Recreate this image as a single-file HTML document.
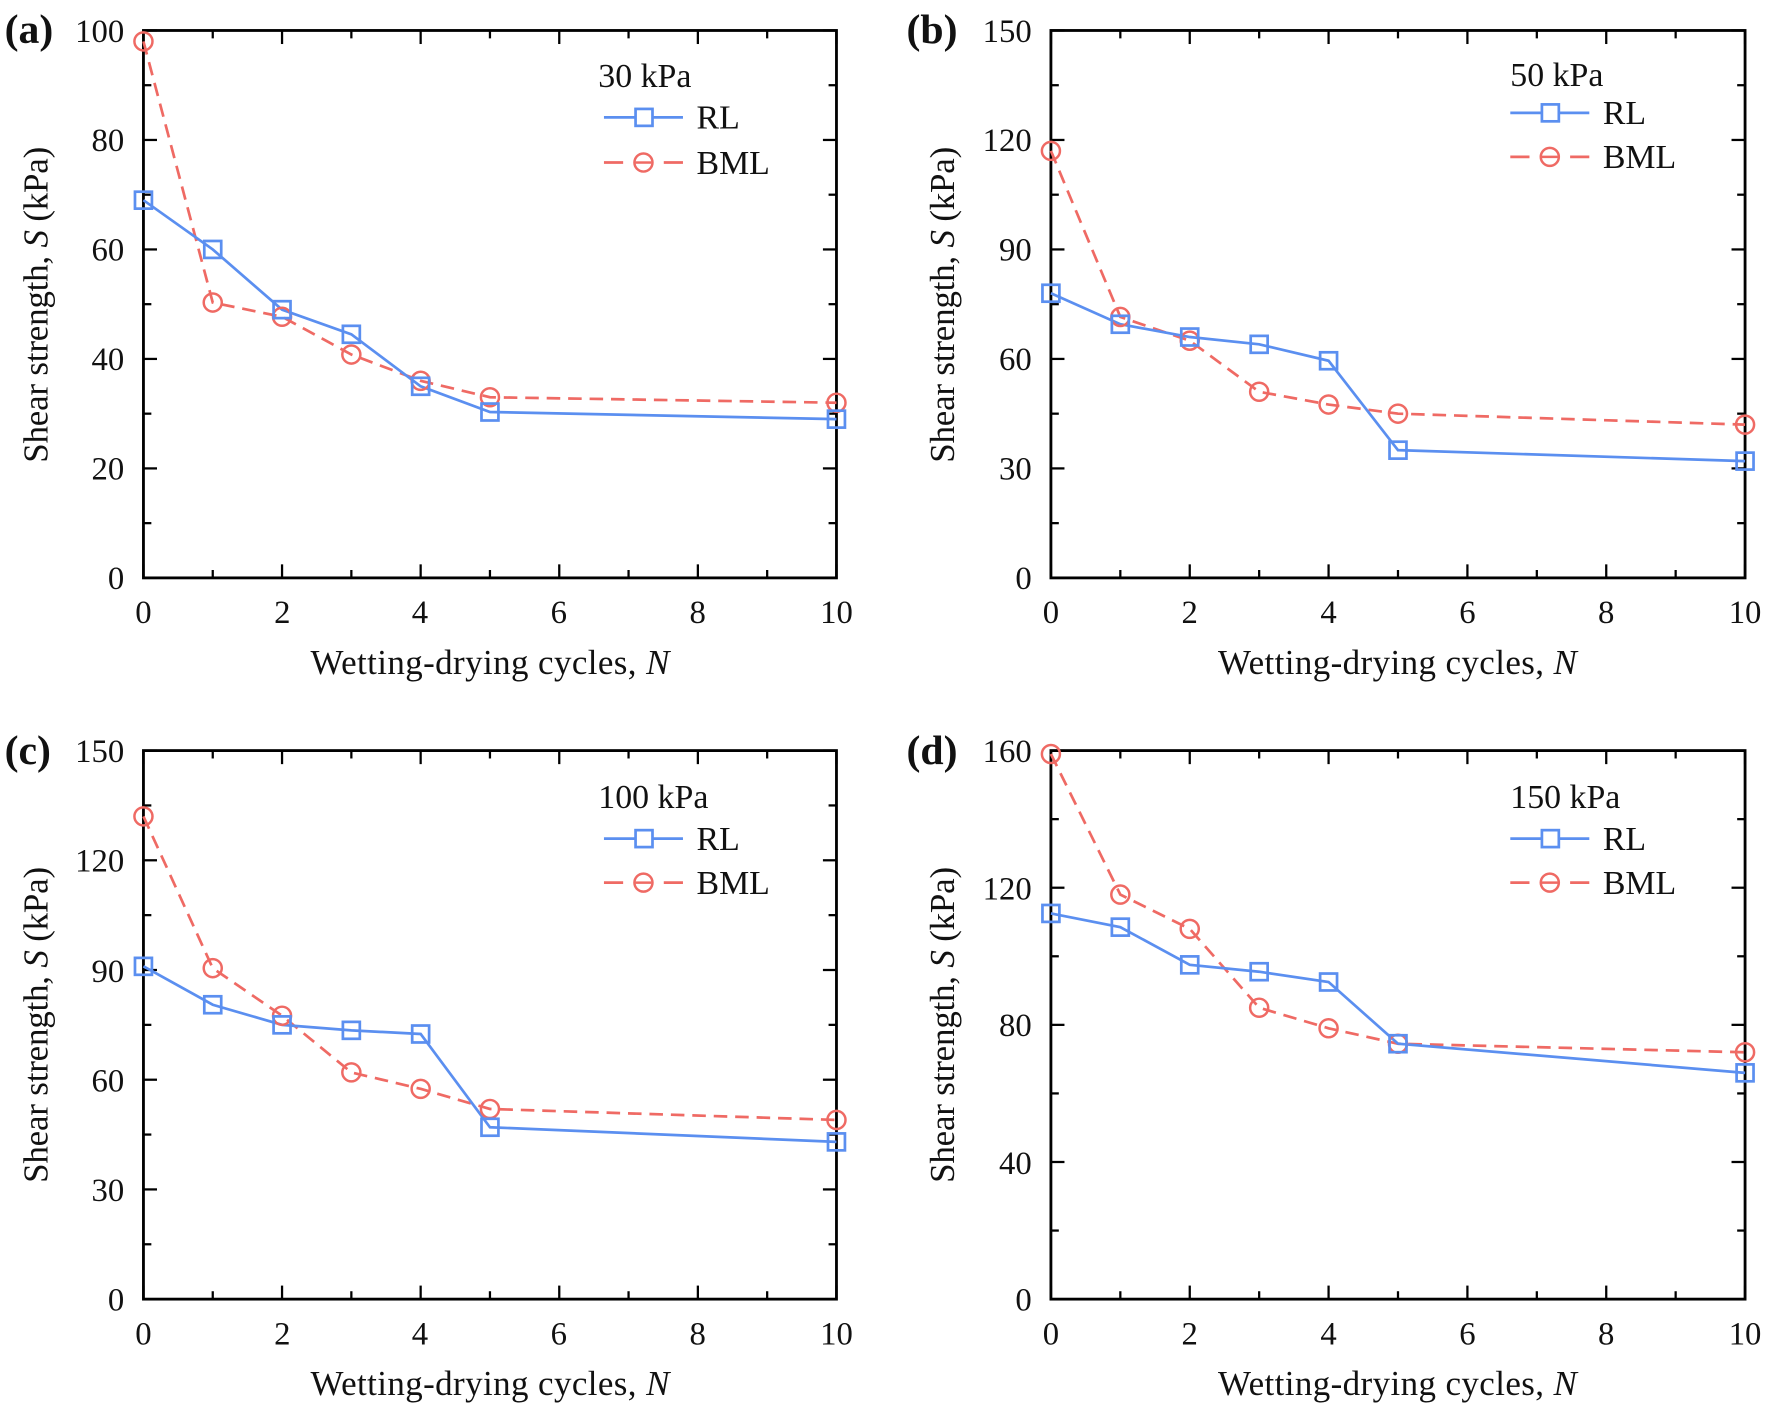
<!DOCTYPE html>
<html><head><meta charset="utf-8">
<style>
html,body{margin:0;padding:0;background:#fff}
svg{display:block}
text{font-family:"Liberation Serif",serif;fill:#111}
</style></head><body>
<svg id="s" width="1770" height="1412" viewBox="0 0 1568 1251" xmlns="http://www.w3.org/2000/svg">
<g id="geo"></g>
<g font-size="29" text-anchor="end">
<text x="110" y="522">0</text><text x="110" y="425">20</text><text x="110" y="328">40</text><text x="110" y="231">60</text><text x="110" y="134">80</text><text x="110" y="37">100</text>
<text x="914" y="522">0</text><text x="914" y="425">30</text><text x="914" y="328">60</text><text x="914" y="231">90</text><text x="914" y="134">120</text><text x="914" y="37">150</text>
<text x="110" y="1161">0</text><text x="110" y="1064">30</text><text x="110" y="967">60</text><text x="110" y="870">90</text><text x="110" y="772">120</text><text x="110" y="675">150</text>
<text x="914" y="1161">0</text><text x="914" y="1040">40</text><text x="914" y="918">80</text><text x="914" y="797">120</text><text x="914" y="675">160</text>
</g>
<g font-size="29" text-anchor="middle">
<text x="127" y="552">0</text><text x="250" y="552">2</text><text x="372" y="552">4</text><text x="495" y="552">6</text><text x="618" y="552">8</text><text x="741" y="552">10</text>
<text x="931" y="552">0</text><text x="1054" y="552">2</text><text x="1177" y="552">4</text><text x="1300" y="552">6</text><text x="1423" y="552">8</text><text x="1546" y="552">10</text>
<text x="127" y="1191">0</text><text x="250" y="1191">2</text><text x="372" y="1191">4</text><text x="495" y="1191">6</text><text x="618" y="1191">8</text><text x="741" y="1191">10</text>
<text x="931" y="1191">0</text><text x="1054" y="1191">2</text><text x="1177" y="1191">4</text><text x="1300" y="1191">6</text><text x="1423" y="1191">8</text><text x="1546" y="1191">10</text>
</g>
<g font-size="31" text-anchor="middle">
<text x="434" y="597" textLength="318">Wetting-drying cycles, <tspan font-style="italic">N</tspan></text>
<text x="1238" y="597" textLength="318">Wetting-drying cycles, <tspan font-style="italic">N</tspan></text>
<text x="434" y="1236" textLength="318">Wetting-drying cycles, <tspan font-style="italic">N</tspan></text>
<text x="1238" y="1236" textLength="318">Wetting-drying cycles, <tspan font-style="italic">N</tspan></text>
<text transform="translate(42,270) rotate(-90)" textLength="280">Shear strength, <tspan font-style="italic">S</tspan> (kPa)</text>
<text transform="translate(845,270) rotate(-90)" textLength="280">Shear strength, <tspan font-style="italic">S</tspan> (kPa)</text>
<text transform="translate(42,908) rotate(-90)" textLength="280">Shear strength, <tspan font-style="italic">S</tspan> (kPa)</text>
<text transform="translate(845,908) rotate(-90)" textLength="280">Shear strength, <tspan font-style="italic">S</tspan> (kPa)</text>
</g>
<g font-size="37" font-weight="bold">
<text x="4" y="38">(a)</text><text x="803" y="38">(b)</text><text x="4" y="677">(c)</text><text x="803" y="677">(d)</text>
</g>
<g font-size="30">
<text x="530" y="77">30 kPa</text><text x="617" y="114">RL</text><text x="617" y="154">BML</text>
<text x="1338" y="76">50 kPa</text><text x="1420" y="110">RL</text><text x="1420" y="149">BML</text>
<text x="530" y="716">100 kPa</text><text x="617" y="753">RL</text><text x="617" y="792">BML</text>
<text x="1338" y="716">150 kPa</text><text x="1420" y="753">RL</text><text x="1420" y="792">BML</text>
</g>
</svg>
<script>
var NS="http://www.w3.org/2000/svg",g=document.getElementById("geo");
function el(t,a){var e=document.createElementNS(NS,t);for(var k in a)e.setAttribute(k,a[k]);g.appendChild(e);return e;}
var B="#5b8ff0",R="#ef6a64";
var P=[
{l:127,r:741,t:27,b:512,ym:100,ys:20,rl:[69,60,49,44.5,35,30.3,29],bml:[98,50.3,47.7,40.8,36,33,32],lx:535,ly:[104,144]},
{l:931,r:1546,t:27,b:512,ym:150,ys:30,rl:[78,69.5,66,64,59.5,35,32],bml:[117,71.5,65,51,47.5,45,42],lx:1338,ly:[100,139]},
{l:127,r:741,t:665,b:1151,ym:150,ys:30,rl:[91,80.5,75,73.5,72.5,47,43],bml:[132,90.5,77.5,62,57.5,52,49],lx:535,ly:[743,782]},
{l:931,r:1546,t:665,b:1151,ym:160,ys:40,rl:[112.5,108.5,97.5,95.5,92.5,74.5,66],bml:[159,118,108,85,79,74.5,72],lx:1338,ly:[743,782]}];
var N=[0,1,2,3,4,5,10];
P.forEach(function(p){
 var X=function(n){return p.l+(p.r-p.l)*n/10},Y=function(v){return p.b-(p.b-p.t)*v/p.ym};
 for(var n=0;n<=10;n++){var L=n%2?7:12,x=X(n);
  el("line",{x1:x,x2:x,y1:p.b,y2:p.b-L,stroke:"#000","stroke-width":2});
  el("line",{x1:x,x2:x,y1:p.t,y2:p.t+L,stroke:"#000","stroke-width":2});}
 for(var v=0;v<=p.ym+0.01;v+=p.ys/2){var maj=Math.abs(v/p.ys-Math.round(v/p.ys))<0.01,L=maj?12:7,y=Y(v);
  el("line",{x1:p.l,x2:p.l+L,y1:y,y2:y,stroke:"#000","stroke-width":2});
  el("line",{x1:p.r,x2:p.r-L,y1:y,y2:y,stroke:"#000","stroke-width":2});}
 el("rect",{x:p.l,y:p.t,width:p.r-p.l,height:p.b-p.t,fill:"none",stroke:"#000","stroke-width":2.5});
 var pr=N.map(function(n,i){return X(n)+","+Y(p.rl[i])}).join(" ");
 var pb=N.map(function(n,i){return X(n)+","+Y(p.bml[i])}).join(" ");
 el("polyline",{points:pb,fill:"none",stroke:R,"stroke-width":2.4,"stroke-dasharray":"12,7"});
 el("polyline",{points:pr,fill:"none",stroke:B,"stroke-width":2.4});
 N.forEach(function(n,i){
  el("circle",{cx:X(n),cy:Y(p.bml[i]),r:8,fill:"none",stroke:R,"stroke-width":2.2});
  el("rect",{x:X(n)-7.5,y:Y(p.rl[i])-7.5,width:15,height:15,fill:"none",stroke:B,"stroke-width":2.4});});
 var lx=p.lx,y1=p.ly[0],y2=p.ly[1];
 el("line",{x1:lx,x2:lx+70,y1:y1,y2:y1,stroke:B,"stroke-width":2.4});
 el("rect",{x:lx+28,y:y1-7.5,width:15,height:15,fill:"#fff",stroke:B,"stroke-width":2.4});
 el("line",{x1:lx,x2:lx+17,y1:y2,y2:y2,stroke:R,"stroke-width":2.4});
 el("line",{x1:lx+53,x2:lx+70,y1:y2,y2:y2,stroke:R,"stroke-width":2.4});
 el("line",{x1:lx+28,x2:lx+42,y1:y2,y2:y2,stroke:R,"stroke-width":2.2});
 el("circle",{cx:lx+35,cy:y2,r:8,fill:"none",stroke:R,"stroke-width":2.2});
});
</script>
</body></html>
